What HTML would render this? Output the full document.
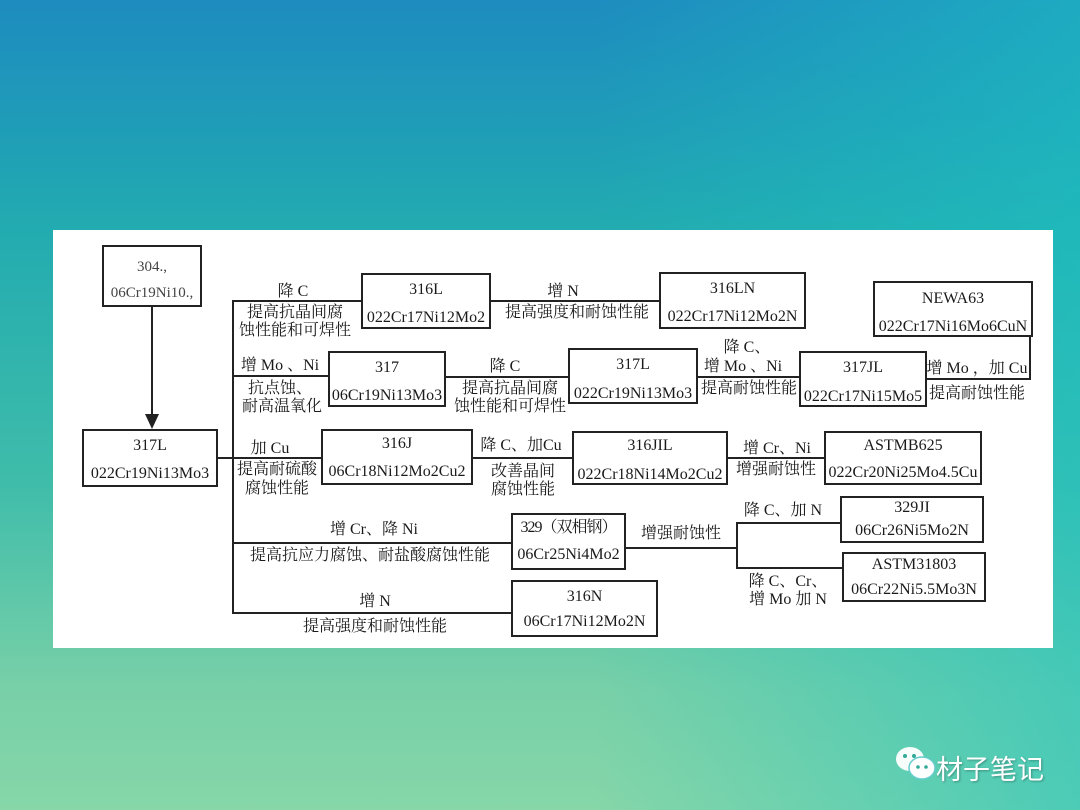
<!DOCTYPE html>
<html><head><meta charset="utf-8"><style>
*{margin:0;padding:0;box-sizing:border-box}
body{width:1080px;height:810px;overflow:hidden;position:relative;font-family:"Liberation Serif","Noto Serif CJK SC",serif;
background:
linear-gradient(90deg,rgba(40,200,200,0) 55%,rgba(30,195,195,0.55) 100%),
linear-gradient(180deg,#1e8cbf 0%,#1f9cb8 15%,#22abb0 28%,#40bdaa 60%,#78d0a8 85%,#86d6a8 100%);}
.panel{position:absolute;left:53px;top:230px;width:1000px;height:418px;background:#fff}
.b{position:absolute;border:2px solid #222;background:#fff;color:#1a1a1a;font-size:16px;text-align:center;line-height:1}
.b span{position:absolute;left:0;right:0;white-space:nowrap}
.h{position:absolute;height:0;border-top:2px solid #222}
.v{position:absolute;width:0;border-left:2px solid #222}
.t{position:absolute;transform:translate(-50%,-50%);white-space:nowrap;font-size:16px;color:#1a1a1a;line-height:1}
.logo{position:absolute;left:936px;top:748px;font-family:"Liberation Sans","Noto Sans CJK SC",sans-serif;color:#fff;font-size:27px;text-shadow:1px 1px 2px rgba(0,0,0,.3)}
</style></head><body>
<div class="panel"></div>

<div class="v" style="left:151px;top:307px;height:112px"></div>
<svg style="position:absolute;left:145px;top:414px" width="14" height="16"><polygon points="0,0 14,0 7,15" fill="#222"/></svg>
<div class="h" style="left:218px;top:457px;width:16px"></div>
<div class="v" style="left:232px;top:300px;height:314px"></div>
<div class="h" style="left:232px;top:300px;width:130px"></div>
<div class="h" style="left:232px;top:375px;width:97px"></div>
<div class="h" style="left:232px;top:457px;width:90px"></div>
<div class="h" style="left:232px;top:542px;width:280px"></div>
<div class="h" style="left:232px;top:612px;width:280px"></div>
<div class="h" style="left:491px;top:300px;width:169px"></div>
<div class="h" style="left:446px;top:376px;width:123px"></div>
<div class="h" style="left:698px;top:376px;width:102px"></div>
<div class="h" style="left:927px;top:378px;width:104px"></div>
<div class="v" style="left:1029px;top:336px;height:44px"></div>
<div class="h" style="left:473px;top:457px;width:100px"></div>
<div class="h" style="left:728px;top:457px;width:97px"></div>
<div class="h" style="left:626px;top:547px;width:112px"></div>
<div class="v" style="left:736px;top:522px;height:47px"></div>
<div class="h" style="left:736px;top:522px;width:105px"></div>
<div class="h" style="left:736px;top:567px;width:107px"></div>

<div class="b" style="left:102px;top:245px;width:100px;height:62px"><span style="top:13px;font-size:15px;color:#444">304.,</span><span style="top:39px;font-size:15px;color:#444">06Cr19Ni10.,</span></div>
<div class="b" style="left:82px;top:429px;width:136px;height:58px"><span style="top:7px">317L</span><span style="top:35px">022Cr19Ni13Mo3</span></div>
<div class="b" style="left:361px;top:273px;width:130px;height:56px"><span style="top:7px">316L</span><span style="top:35px">022Cr17Ni12Mo2</span></div>
<div class="b" style="left:659px;top:272px;width:147px;height:57px"><span style="top:7px">316LN</span><span style="top:35px">022Cr17Ni12Mo2N</span></div>
<div class="b" style="left:873px;top:281px;width:160px;height:56px"><span style="top:8px">NEWA63</span><span style="top:36px">022Cr17Ni16Mo6CuN</span></div>
<div class="b" style="left:328px;top:351px;width:118px;height:56px"><span style="top:7px">317</span><span style="top:35px">06Cr19Ni13Mo3</span></div>
<div class="b" style="left:568px;top:348px;width:130px;height:56px"><span style="top:7px">317L</span><span style="top:36px">022Cr19Ni13Mo3</span></div>
<div class="b" style="left:799px;top:351px;width:128px;height:56px"><span style="top:7px">317JL</span><span style="top:36px">022Cr17Ni15Mo5</span></div>
<div class="b" style="left:321px;top:429px;width:152px;height:56px"><span style="top:5px">316J</span><span style="top:33px">06Cr18Ni12Mo2Cu2</span></div>
<div class="b" style="left:572px;top:431px;width:156px;height:54px"><span style="top:5px">316JIL</span><span style="top:34px">022Cr18Ni14Mo2Cu2</span></div>
<div class="b" style="left:824px;top:431px;width:158px;height:54px"><span style="top:5px">ASTMB625</span><span style="top:32px">022Cr20Ni25Mo4.5Cu</span></div>
<div class="b" style="left:511px;top:513px;width:115px;height:57px"><span style="top:5px;letter-spacing:-1px">329（双相钢）</span><span style="top:32px">06Cr25Ni4Mo2</span></div>
<div class="b" style="left:840px;top:496px;width:144px;height:47px"><span style="top:2px">329JI</span><span style="top:25px">06Cr26Ni5Mo2N</span></div>
<div class="b" style="left:842px;top:552px;width:144px;height:50px"><span style="top:3px">ASTM31803</span><span style="top:28px">06Cr22Ni5.5Mo3N</span></div>
<div class="b" style="left:511px;top:580px;width:147px;height:57px"><span style="top:7px">316N</span><span style="top:32px">06Cr17Ni12Mo2N</span></div>

<div class="t" style="left:293px;top:292px">降 C</div>
<div class="t" style="left:295px;top:313px">提高抗晶间腐</div>
<div class="t" style="left:295px;top:331px">蚀性能和可焊性</div>
<div class="t" style="left:280px;top:366px">增 Mo 、Ni</div>
<div class="t" style="left:280px;top:389px">抗点蚀、</div>
<div class="t" style="left:282px;top:407px">耐高温氧化</div>
<div class="t" style="left:270px;top:449px">加 Cu</div>
<div class="t" style="left:277px;top:470px">提高耐硫酸</div>
<div class="t" style="left:277px;top:489px">腐蚀性能</div>
<div class="t" style="left:374px;top:530px">增 Cr、降 Ni</div>
<div class="t" style="left:370px;top:556px">提高抗应力腐蚀、耐盐酸腐蚀性能</div>
<div class="t" style="left:375px;top:602px">增 N</div>
<div class="t" style="left:375px;top:627px">提高强度和耐蚀性能</div>
<div class="t" style="left:563px;top:292px">增 N</div>
<div class="t" style="left:577px;top:313px">提高强度和耐蚀性能</div>
<div class="t" style="left:505px;top:367px">降 C</div>
<div class="t" style="left:510px;top:389px">提高抗晶间腐</div>
<div class="t" style="left:510px;top:407px">蚀性能和可焊性</div>
<div class="t" style="left:747px;top:348px">降 C、</div>
<div class="t" style="left:743px;top:367px">增 Mo 、Ni</div>
<div class="t" style="left:749px;top:389px">提高耐蚀性能</div>
<div class="t" style="left:977px;top:369px">增 Mo ，加 Cu</div>
<div class="t" style="left:977px;top:394px">提高耐蚀性能</div>
<div class="t" style="left:521px;top:446px">降 C、加Cu</div>
<div class="t" style="left:523px;top:472px">改善晶间</div>
<div class="t" style="left:523px;top:490px">腐蚀性能</div>
<div class="t" style="left:777px;top:449px">增 Cr、Ni</div>
<div class="t" style="left:776px;top:470px">增强耐蚀性</div>
<div class="t" style="left:681px;top:534px">增强耐蚀性</div>
<div class="t" style="left:783px;top:511px">降 C、加 N</div>
<div class="t" style="left:788px;top:582px">降 C、Cr、</div>
<div class="t" style="left:788px;top:600px">增 Mo 加 N</div>

<svg style="position:absolute;left:895px;top:746px" width="42" height="36"><ellipse cx="15" cy="13" rx="14" ry="12" fill="#fff" opacity=".95"/><ellipse cx="27" cy="22" rx="13" ry="11" fill="#fff" stroke="#6cc" stroke-width="1.5"/><circle cx="10" cy="10" r="2" fill="#3a9"/><circle cx="19" cy="10" r="2" fill="#3a9"/><circle cx="23" cy="21" r="1.8" fill="#3a9"/><circle cx="31" cy="21" r="1.8" fill="#3a9"/></svg>
<div class="logo">材子笔记</div>
</body></html>
